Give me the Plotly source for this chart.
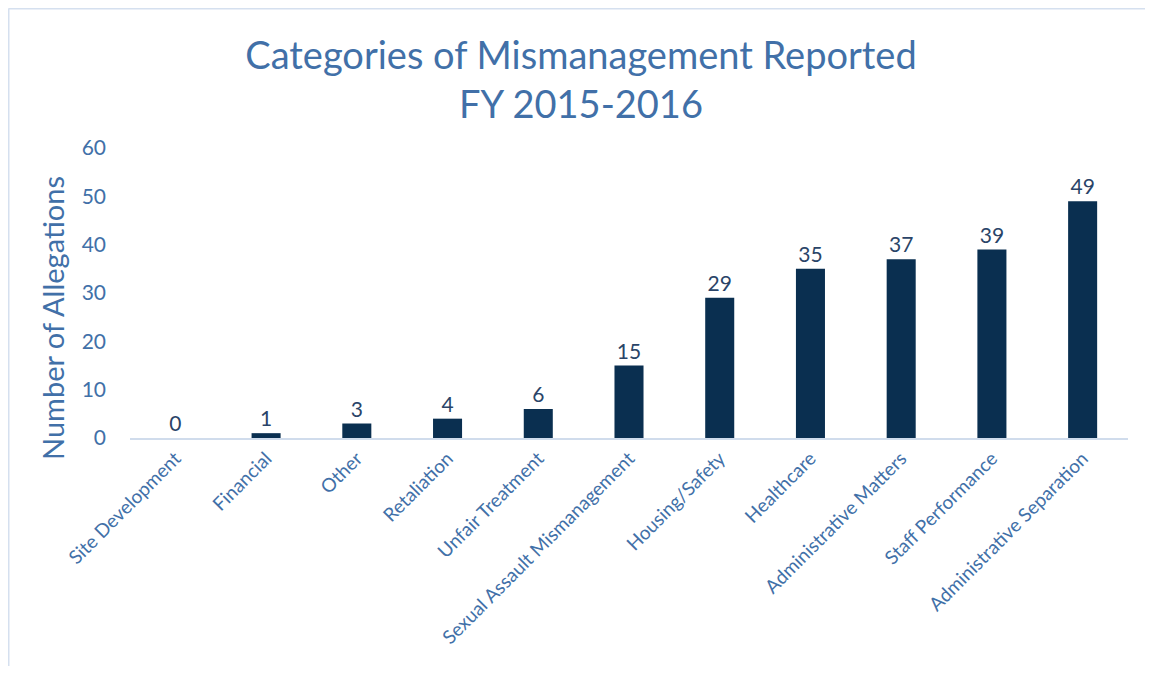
import plotly.graph_objects as go

categories = ["Site Development", "Financial", "Other", "Retaliation", "Unfair Treatment",
              "Sexual Assault Mismanagement", "Housing/Safety", "Healthcare",
              "Administrative Matters", "Staff Performance", "Administrative Separation"]
allegations = [0, 1, 3, 4, 6, 15, 29, 35, 37, 39, 49]
y_ticks = [0, 10, 20, 30, 40, 50, 60]

FONT = "Lato"
BLUE = "#4170A8"
NAVY = "#0A2F50"

fig = go.Figure(go.Bar(
    x=categories, y=allegations,
    marker=dict(color=NAVY, line=dict(width=0)),
    text=[str(v) for v in allegations], textposition="outside",
    textfont=dict(family=FONT, size=21, color="#2A4468"),
    cliponaxis=False,
))

# page has an 8px body margin, so the figure is sized/positioned accordingly
W, H = 1137, 658
L, R, T, B = 122, 17, 140, 228
pw, ph = W - L - R, H - T - B

def px(x):
    return (x - L) / pw

def py(y):
    return (H - B - y) / ph

BORDER = dict(color="#D5E0EF", width=2)

fig.update_layout(
    width=W, height=H,
    margin=dict(l=L, r=R, t=T, b=B, autoexpand=False),
    paper_bgcolor="white", plot_bgcolor="white",
    bargap=0.68,
    showlegend=False,
    title=dict(text="Categories of Mismanagement Reported<br>FY 2015-2016",
               x=573 / W, xanchor="center", xref="container",
               y=1 - 61 / H, yanchor="middle", yref="container",
               font=dict(family=FONT, size=38, color=BLUE)),
    xaxis=dict(tickangle=-45, tickfont=dict(family=FONT, size=19, color=BLUE),
               showline=True, linecolor="#D0DCEC", linewidth=2, automargin=False,
               ticks="", showgrid=False),
    yaxis=dict(range=[0, 60], tickvals=y_ticks, showgrid=False, zeroline=False,
               automargin=False,
               tickfont=dict(family=FONT, size=21, color=BLUE),
               ticks="", ticklabelstandoff=23),
    annotations=[dict(text="Number of Allegations", textangle=-90,
                      xref="paper", yref="paper", x=px(44), y=py(310),
                      xanchor="center", yanchor="middle", showarrow=False,
                      font=dict(family=FONT, size=29, color=BLUE))],
    shapes=[
        dict(type="line", xref="paper", yref="paper",
             x0=px(0.5), x1=px(0.5), y0=py(H), y1=py(0.5), line=BORDER, layer="below"),
        dict(type="line", xref="paper", yref="paper",
             x0=px(0.5), x1=px(W), y0=py(0.5), y1=py(0.5), line=BORDER, layer="below"),
    ],
)

fig.write_html("out.html")
